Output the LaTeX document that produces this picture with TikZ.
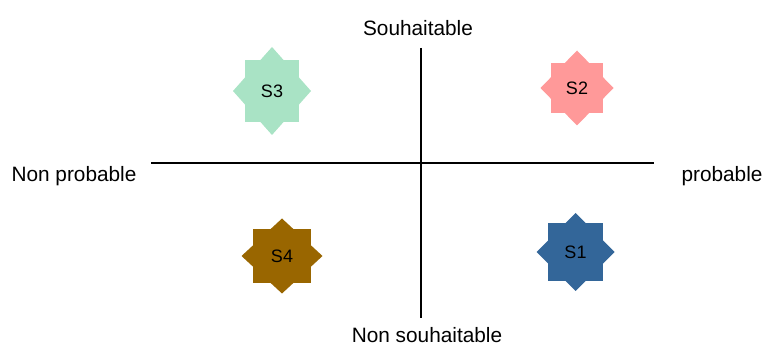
\documentclass[tikz,border=0pt]{standalone}
\usepackage{fontspec}
\setmainfont{Liberation Sans}
\definecolor{cmint}{HTML}{A9E3C5}
\definecolor{cpink}{HTML}{FF9999}
\definecolor{cblue}{HTML}{336699}
\definecolor{cbrown}{HTML}{996600}
\newcommand{\mystar}[6]{%
  \fill[#2, shift={(#1)}] (-#3,-#4) rectangle (#3,#4);
  \fill[#2, shift={(#1)}] (-#5,0) -- (0,-#6) -- (#5,0) -- (0,#6) -- cycle;}
\begin{document}
\begin{tikzpicture}[x=1pt,y=-1pt,
  lab/.style={font=\fontsize{20.8}{24}\selectfont, anchor=base, inner sep=0pt},
  slab/.style={font=\fontsize{18}{20}\selectfont, inner sep=0pt},
  axis/.style={line width=1.3pt, black}]
\useasboundingbox (0,0) rectangle (766,347);
% axes
\coordinate (hl) at (151,163);
\coordinate (hr) at (654,163);
\coordinate (vt) at (421,48);
\coordinate (vb) at (421,318);
\draw[axis] (hl) -- (hr);
\draw[axis] (vt) -- (vb);
% labels
\node[lab] (souh) at (418,36) {Souhaitable};
\node[lab] (nsouh) at (427,343) {Non souhaitable};
\node[lab] (nprob) at (74,182) {Non probable};
\node[lab] (prob) at (722,182) {probable};
% stars
\coordinate (c3) at (272,91);
\mystar{c3}{cmint}{27}{31}{39}{44}
\node[slab] (s3) at (c3) {S3};
\coordinate (c2) at (577,88);
\mystar{c2}{cpink}{26}{25}{36.5}{37.5}
\node[slab] (s2) at (c2) {S2};
\coordinate (c1) at (575.5,252);
\mystar{c1}{cblue}{27.5}{29}{39}{39}
\node[slab] (s1) at (c1) {S1};
\coordinate (c4) at (282,256);
\mystar{c4}{cbrown}{29}{27}{40.5}{37.5}
\node[slab] (s4) at (c4) {S4};
\end{tikzpicture}
\end{document}
